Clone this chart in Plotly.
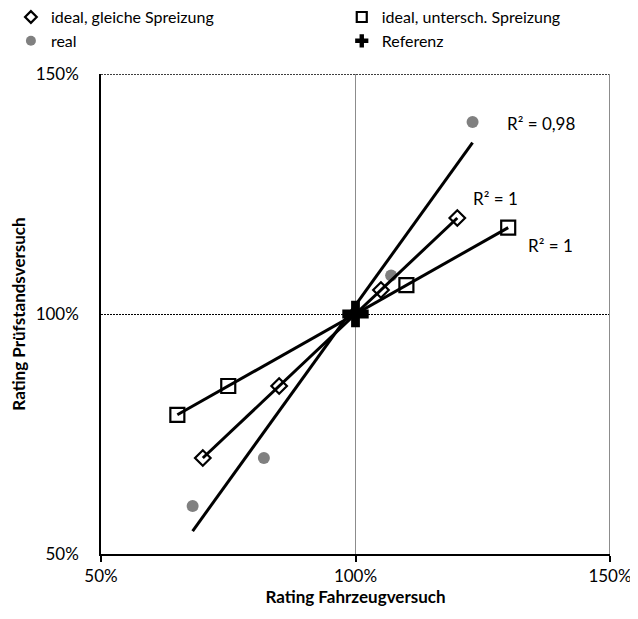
import numpy as np
import plotly.graph_objects as go

# Data (percent)
gleich_x = [70, 85, 105, 120]
gleich_y = [70, 85, 105, 120]
untersch_x = [65, 75, 110, 130]
untersch_y = [79, 85, 106, 118]
real_x = [68, 82, 107, 123]
real_y = [60, 70, 108, 140]
ref_x = [100]
ref_y = [100]
tick_vals = [50, 100, 150]
tick_text = ["50%", "100%", "150%"]
r2_labels = ["R² = 0,98", "R² = 1", "R² = 1"]
series_names = ["ideal, gleiche Spreizung", "ideal, untersch. Spreizung", "real", "Referenz"]

FONT = "Lato, Carlito, Calibri, sans-serif"

fig = go.Figure()

diamond_m = dict(symbol="diamond", color="white", line=dict(color="black", width=2.2))
square_m = dict(symbol="square", color="white", line=dict(color="black", width=2.2))
circle_m = dict(symbol="circle", color="#808080")
cross_m = dict(symbol="cross", color="black", line=dict(width=0))

fig.add_trace(go.Scatter(x=gleich_x, y=gleich_y, mode="markers", showlegend=False,
                         marker=dict(size=12, **diamond_m)))
fig.add_trace(go.Scatter(x=untersch_x, y=untersch_y, mode="markers", showlegend=False,
                         marker=dict(size=14, **square_m)))
fig.add_trace(go.Scatter(x=real_x, y=real_y, mode="markers", showlegend=False,
                         marker=dict(size=12, **circle_m)))

# linear trendlines
for xs, ys in [(real_x, real_y), (gleich_x, gleich_y), (untersch_x, untersch_y)]:
    k, d = np.polyfit(xs, ys, 1)
    lx = np.array([min(xs), max(xs)], dtype=float)
    fig.add_trace(go.Scatter(x=lx, y=k * lx + d, mode="lines", showlegend=False,
                             line=dict(color="black", width=3), hoverinfo="skip"))

fig.add_trace(go.Scatter(x=ref_x, y=ref_y, mode="markers", showlegend=False,
                         marker=dict(size=22, **cross_m)))

# legend entries (legend-only, smaller symbols like the reference)
leg_specs = [(series_names[0], dict(size=9, **diamond_m), "legend"),
             (series_names[2], dict(size=10, **circle_m), "legend"),
             (series_names[1], dict(size=10, **square_m), "legend2"),
             (series_names[3], dict(size=11, **cross_m), "legend2")]
for nm, mk, lg in leg_specs:
    fig.add_trace(go.Scatter(x=[None], y=[None], mode="markers", name=nm,
                             marker=mk, legend=lg, showlegend=True))

ann_pos = [(136.4, 139.6), (127.6, 124.0), (138.4, 114.2)]
for (ax_, ay_), txt in zip(ann_pos, r2_labels):
    fig.add_annotation(x=ax_, y=ay_, text=txt, showarrow=False,
                       font=dict(size=17, color="black", family=FONT))

# frame lines at the top and right edge (gridlines at range ends)
fig.add_shape(type="line", xref="paper", yref="y", x0=0, x1=1, y0=150, y1=150,
              line=dict(color="black", width=1.3, dash="2px,1px"))
fig.add_shape(type="line", xref="x", yref="paper", x0=150, x1=150, y0=0, y1=1,
              line=dict(color="#8c8c8c", width=2))

leg_common = dict(orientation="v", xref="paper", yref="paper", y=1.154,
                  xanchor="left", yanchor="top", font=dict(size=16, family=FONT),
                  bgcolor="rgba(0,0,0,0)", traceorder="normal", itemwidth=30)
fig.update_layout(
    width=630, height=611,
    margin=dict(l=93, r=28, t=66, b=65, autoexpand=False),
    paper_bgcolor="white", plot_bgcolor="white",
    font=dict(family=FONT, size=16, color="black"),
    showlegend=True,
    legend=dict(x=-0.177, **leg_common),
    legend2=dict(x=0.473, **leg_common),
)
fig.update_xaxes(range=[50, 150], tickvals=tick_vals, ticktext=tick_text,
                 showgrid=True, gridcolor="#8c8c8c", gridwidth=1,
                 showline=True, linecolor="black", linewidth=1.5,
                 ticks="outside", ticklen=6, tickcolor="black", tickwidth=1.5,
                 zeroline=False,
                 title=dict(text="<b>Rating Fahrzeugversuch</b>", standoff=4,
                            font=dict(size=17, family=FONT)),
                 tickfont=dict(size=17, family=FONT))
fig.update_yaxes(range=[50, 150], tickvals=tick_vals, ticktext=tick_text,
                 showgrid=True, gridcolor="black", gridwidth=1.3, griddash="2px,1px",
                 showline=True, linecolor="black", linewidth=1.5,
                 ticks="", zeroline=False, ticklabelstandoff=17,
                 title=dict(text="<b>Rating Prüfstandsversuch</b>", standoff=15,
                            font=dict(size=17, family=FONT)),
                 tickfont=dict(size=17, family=FONT))

fig.write_html("out.html")
